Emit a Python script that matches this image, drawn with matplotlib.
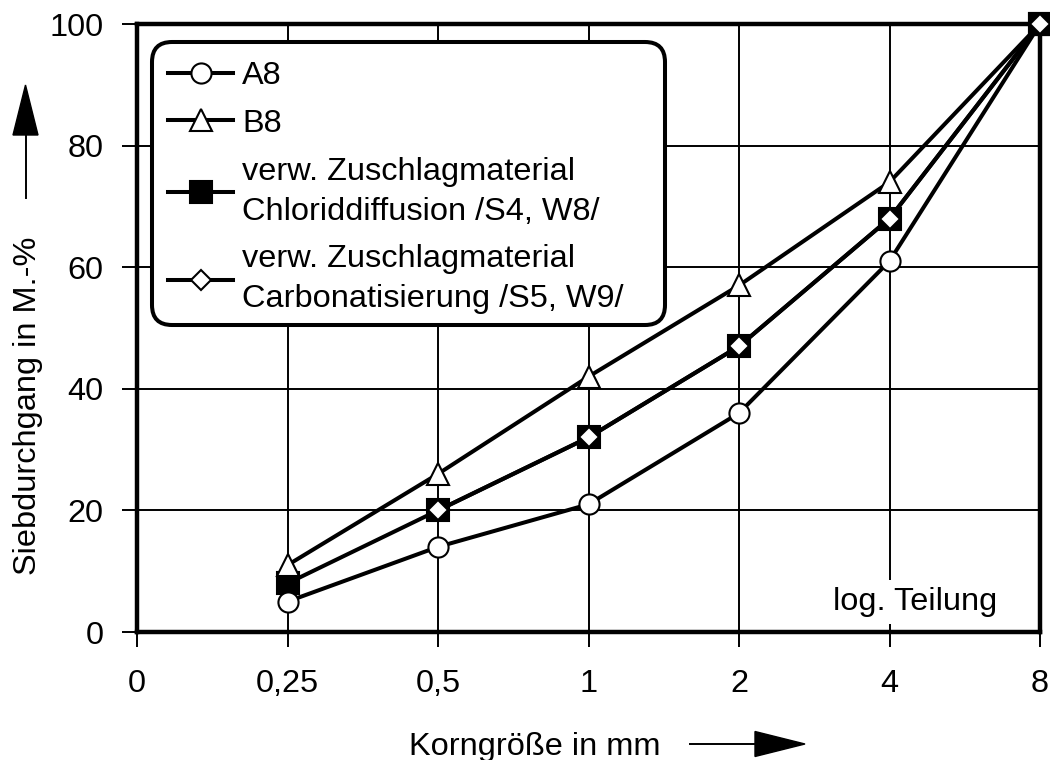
import numpy as np
import matplotlib
matplotlib.use('Agg')
import matplotlib.pyplot as plt
from matplotlib.patches import Polygon, FancyBboxPatch
from matplotlib.lines import Line2D
from matplotlib.transforms import IdentityTransform

plt.rcParams['font.family'] = ['Liberation Sans', 'DejaVu Sans']
plt.rcParams['font.size'] = 23.4

# data
tick_labels = ['0', '0,25', '0,5', '1', '2', '4', '8']
sizes = ['0,25', '0,5', '1', '2', '4', '8']
a8 = [5, 14, 21, 36, 61, 100]
b8 = [11, 26, 42, 57, 74, 100]
chlorid = [8, 20, 32, 47, 68, 100]
carbon = [np.nan, 20, 32, 47, 68, 100]   # no diamond visible at 0,25
labels = ['A8', 'B8',
          'verw. Zuschlagmaterial\nChloriddiffusion /S4, W8/',
          'verw. Zuschlagmaterial\nCarbonatisierung /S5, W9/']

W, H = 1050, 760
def fx(px):
    return px / W
def fy(py):
    return 1 - py / H

fig = plt.figure(figsize=(W/100, H/100), dpi=100)
ax = fig.add_axes([fx(137), fy(632), 903/W, 608/H])

xpos = [tick_labels.index(s) for s in sizes]
lw = 2.9
mew = 1.5
sq_style = dict(marker='s', ms=16.5, mfc='k', mec='k', mew=mew)
di_style = dict(marker='D', ms=10, mfc='w', mec='k', mew=mew)
l_sq, = ax.plot(xpos, chlorid, '-', color='k', lw=lw, zorder=3,
                clip_on=False, **sq_style)
l_di, = ax.plot(xpos, carbon, '-', color='k', lw=lw, zorder=4,
                clip_on=False, **di_style)
l_b8, = ax.plot(xpos, b8, '-', color='k', lw=lw, marker='^', ms=16.5,
                mfc='w', mec='k', mew=mew, zorder=5, clip_on=False)
l_a8, = ax.plot(xpos, a8, '-', color='k', lw=lw, marker='o', ms=14.5,
                mfc='w', mec='k', mew=mew, zorder=6, clip_on=False)
# end point: square/diamond on top
ax.plot(xpos[-1:], chlorid[-1:], ls='none', zorder=8, clip_on=False, **sq_style)
ax.plot(xpos[-1:], carbon[-1:], ls='none', zorder=8.5, clip_on=False, **di_style)

ax.set_xlim(0, len(tick_labels) - 1)
ax.set_ylim(0, 100)
ax.set_xticks(range(len(tick_labels)))
ax.set_xticklabels(tick_labels)
ax.set_yticks([0, 20, 40, 60, 80, 100])
ax.tick_params(direction='out', length=11, width=1.4, colors='k')
ax.tick_params(axis='x', pad=16)
ax.tick_params(axis='y', pad=13)
ax.grid(True, color='k', lw=1.4, zorder=1)
ax.set_axisbelow(True)
for sp in ax.spines.values():
    sp.set_linewidth(3.2)
    sp.set_zorder(7)

ax.text(5.714, 3.6, 'log. Teilung', ha='right', va='baseline',
        bbox=dict(facecolor='w', edgecolor='none', pad=5), zorder=2)

# legend: text/handles from legend, rounded frame drawn separately
leg = ax.legend([l_a8, l_b8, l_sq, l_di], labels, loc='upper left',
                bbox_to_anchor=(0.0166, 0.966), borderaxespad=0,
                handlelength=2.0, handletextpad=0.28, labelspacing=0.55,
                borderpad=0.5, frameon=False)
leg.set_zorder(10)
for t in leg.get_texts():
    t.set_linespacing(1.43)
box = FancyBboxPatch((152, H - 325), 665 - 152, 325 - 42,
                     boxstyle='round,pad=0,rounding_size=20',
                     transform=IdentityTransform(), facecolor='w',
                     edgecolor='k', lw=2.9, zorder=9)
ax.add_patch(box)

# axis titles with arrows
fig.text(fx(28), fy(406), 'Siebdurchgang in M.-%', rotation=90,
         ha='center', va='center')
fig.add_artist(Line2D([fx(25.5), fx(25.5)], [fy(198), fy(135)], color='k', lw=1.4))
fig.add_artist(Polygon([[fx(13), fy(135)], [fx(38), fy(135)], [fx(25.5), fy(85)]],
                       closed=True, color='k'))
fig.text(fx(535), fy(755), 'Korngröße in mm', ha='center', va='baseline')
fig.add_artist(Line2D([fx(690), fx(755)], [fy(744), fy(744)], color='k', lw=1.4))
fig.add_artist(Polygon([[fx(755), fy(731.5)], [fx(755), fy(756.5)], [fx(805), fy(744)]],
                       closed=True, color='k'))

fig.savefig('out.png', dpi=100)
